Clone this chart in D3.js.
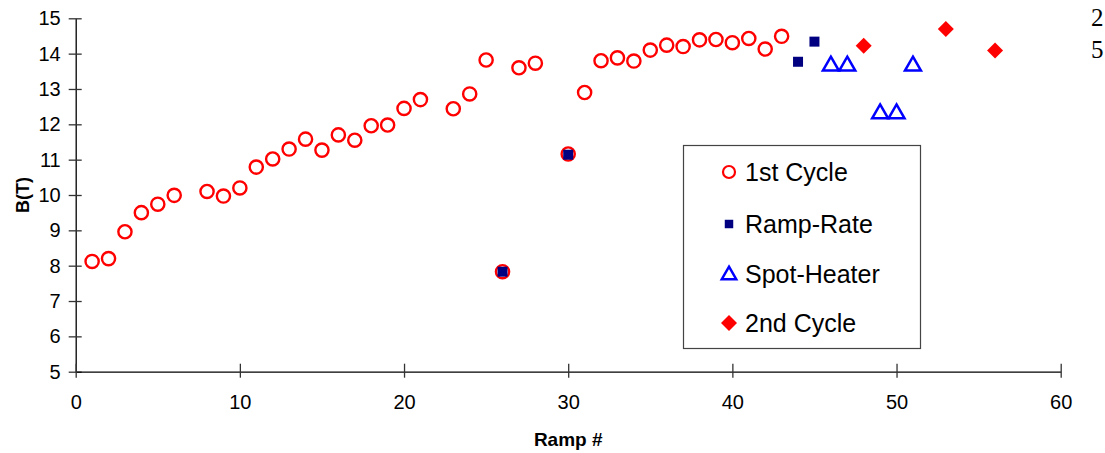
<!DOCTYPE html>
<html lang="en">
<head>
    <meta charset="UTF-8">
    <title>B(T) vs Ramp #</title>
    <script src="https://d3js.org/d3.v7.min.js"></script>
    <style>
        body { margin: 0; background: #fff; }
        svg { display: block; font-family: "Liberation Sans", Arial, sans-serif; }
    </style>
</head>
<body>

<div id="chart-container"></div>

<script>
    // ramp number / field values
    const firstCycleRamp = [1, 2, 3, 4, 5, 6, 8, 9, 10, 11, 12, 13, 14, 15, 16, 17, 18, 19, 20, 21,
        23, 24, 25, 26, 27, 28, 30, 31, 32, 33, 34, 35, 36, 37, 38, 39, 40, 41, 42, 43];
    const firstCycleB = [8.12, 8.2, 8.96, 9.5, 9.74, 9.99, 10.1, 9.97, 10.2, 10.79, 11.02, 11.3, 11.58, 11.27, 11.7, 11.55, 11.96, 11.98, 12.45, 12.7,
        12.44, 12.86, 13.82, 7.83, 13.6, 13.73, 11.16, 12.9, 13.8, 13.88, 13.79, 14.1, 14.24, 14.2, 14.39, 14.4, 14.31, 14.43, 14.13, 14.49];

    const rampRateRamp = [26, 30, 44, 45];
    const rampRateB = [7.83, 11.14, 13.77, 14.34];

    const spotHeaterRamp = [46, 47, 49, 50, 51];
    const spotHeaterB = [13.68, 13.68, 12.33, 12.33, 13.68];

    const secondCycleRamp = [48, 53, 56];
    const secondCycleB = [14.22, 14.7, 14.09];

    const xTicks = [0, 10, 20, 30, 40, 50, 60];
    const yTicks = [5, 6, 7, 8, 9, 10, 11, 12, 13, 14, 15];
    const legendNames = ["1st Cycle", "Ramp-Rate", "Spot-Heater", "2nd Cycle"];

    const width = 1105;
    const height = 453;
    const plot = { left: 75.7, right: 1060.7, top: 18.3, bottom: 371.7 };

    const svg = d3.select("#chart-container")
        .append("svg")
        .attr("width", width)
        .attr("height", height);

    const x = d3.scaleLinear().domain([0, 60]).range([plot.left, plot.right]);
    const y = d3.scaleLinear().domain([5, 15]).range([plot.bottom, plot.top]);

    // y axis, ticks cross the line
    const yAxis = svg.append("g")
        .attr("transform", `translate(${plot.left},0)`)
        .call(d3.axisLeft(y).tickValues(yTicks).tickSize(7).tickSizeOuter(0).tickPadding(8));
    yAxis.select(".domain").attr("stroke", "#000").attr("stroke-width", 1.3);
    yAxis.selectAll(".tick line").attr("x2", 6).attr("x1", -7).attr("stroke", "#333").attr("stroke-width", 1.3);
    yAxis.selectAll(".tick text").attr("font-size", 20).attr("fill", "#000")
        .attr("font-family", "Liberation Sans, Arial, sans-serif");

    // x axis
    const xAxis = svg.append("g")
        .attr("transform", `translate(0,${plot.bottom})`)
        .call(d3.axisBottom(x).tickValues(xTicks).tickSize(6).tickSizeOuter(0).tickPadding(17));
    xAxis.select(".domain").attr("stroke", "#000").attr("stroke-width", 1.3);
    xAxis.selectAll(".tick line").attr("y1", -8).attr("y2", 6).attr("stroke", "#333").attr("stroke-width", 1.3);
    xAxis.selectAll(".tick text").attr("font-size", 20).attr("fill", "#000")
        .attr("font-family", "Liberation Sans, Arial, sans-serif");

    // axis titles
    svg.append("text")
        .attr("x", (plot.left + plot.right) / 2)
        .attr("y", 446)
        .attr("text-anchor", "middle")
        .attr("font-weight", "bold")
        .attr("font-size", 19)
        .text("Ramp #");

    svg.append("text")
        .attr("transform", `translate(29,${y(10)}) rotate(-90)`)
        .attr("text-anchor", "middle")
        .attr("font-weight", "bold")
        .attr("font-size", 18)
        .text("B(T)");

    // markers
    const circleSym = d3.symbol().type(d3.symbolCircle).size(Math.PI * 6.6 * 6.6);
    const squareSym = d3.symbol().type(d3.symbolSquare).size(100);
    const triSym = d3.symbol().type(d3.symbolTriangle).size(110);
    const diamondSym = d3.symbol().type(d3.symbolSquare).size(128);

    svg.append("g").selectAll("path")
        .data(d3.zip(firstCycleRamp, firstCycleB))
        .join("path")
        .attr("d", circleSym)
        .attr("transform", d => `translate(${x(d[0])},${y(d[1])})`)
        .attr("fill", "none")
        .attr("stroke", "#ff0000")
        .attr("stroke-width", 2.4);

    svg.append("g").selectAll("path")
        .data(d3.zip(rampRateRamp, rampRateB))
        .join("path")
        .attr("d", squareSym)
        .attr("transform", d => `translate(${x(d[0])},${y(d[1])})`)
        .attr("fill", "#000080");

    svg.append("g").selectAll("path")
        .data(d3.zip(spotHeaterRamp, spotHeaterB))
        .join("path")
        .attr("d", triSym)
        .attr("transform", d => `translate(${x(d[0])},${y(d[1]) + 1})`)
        .attr("fill", "none")
        .attr("stroke", "#0000ff")
        .attr("stroke-width", 2.5);

    svg.append("g").selectAll("path")
        .data(d3.zip(secondCycleRamp, secondCycleB))
        .join("path")
        .attr("d", diamondSym)
        .attr("transform", d => `translate(${x(d[0])},${y(d[1])}) rotate(45)`)
        .attr("fill", "#ff0000");

    // legend
    const legend = svg.append("g");
    legend.append("rect")
        .attr("x", 683.5).attr("y", 145.5)
        .attr("width", 237).attr("height", 203)
        .attr("fill", "#fff")
        .attr("stroke", "#444")
        .attr("stroke-width", 1.2);

    const rowY = [172, 224, 274, 323];
    legendNames.forEach((name, i) => {
        const g = legend.append("g").attr("transform", `translate(729,${rowY[i]})`);
        if (i === 0) {
            g.append("path").attr("d", d3.symbol().type(d3.symbolCircle).size(Math.PI * 36))
                .attr("fill", "none").attr("stroke", "#ff0000").attr("stroke-width", 2.2);
        } else if (i === 1) {
            g.append("path").attr("d", d3.symbol().type(d3.symbolSquare).size(72)).attr("fill", "#000080");
        } else if (i === 2) {
            g.append("path").attr("d", d3.symbol().type(d3.symbolTriangle).size(90)).attr("transform", "translate(0,1)")
                .attr("fill", "none").attr("stroke", "#0000ff").attr("stroke-width", 2.5);
        } else {
            g.append("path").attr("d", diamondSym).attr("transform", "rotate(45)").attr("fill", "#ff0000");
        }
        legend.append("text")
            .attr("x", 745)
            .attr("y", rowY[i])
            .attr("dy", "0.36em")
            .attr("font-size", 25)
            .attr("fill", "#000")
            .text(name);
    });

    // clipped serif text at the right edge
    svg.append("text").attr("x", 1091).attr("y", 26)
        .attr("font-family", "Liberation Serif, Times New Roman, serif").attr("font-size", 25).text("2");
    svg.append("text").attr("x", 1091).attr("y", 58)
        .attr("font-family", "Liberation Serif, Times New Roman, serif").attr("font-size", 25).text("5");
</script>
</body>
</html>
